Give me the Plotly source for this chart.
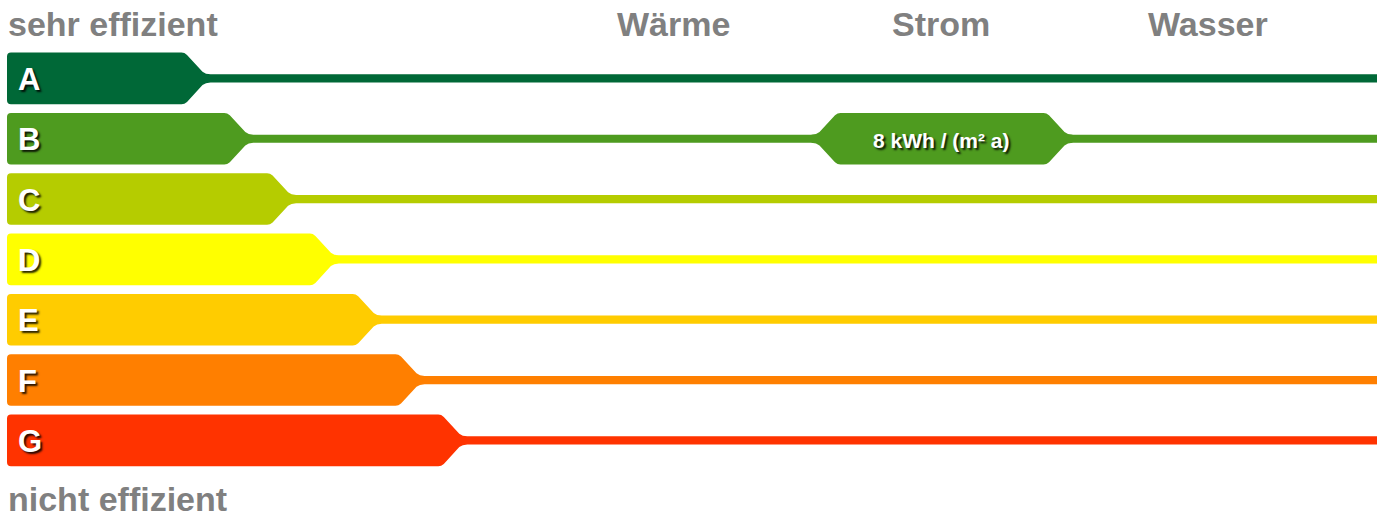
import plotly.graph_objects as go

# ---- data ----
classes = ["A", "B", "C", "D", "E", "F", "G"]
class_colors = ["#006837", "#4e9b1f", "#b5cc00", "#ffff00", "#ffcc00", "#ff7f00", "#ff3300"]
columns = ["Wärme", "Strom", "Wasser"]
column_ratings = [None, "B", None]
column_values = [None, "8 kWh / (m² a)", None]
top_label = "sehr effizient"
bottom_label = "nicht effizient"

# ---- geometry (style) ----
W, H = 1377, 517
row0, row_step = 78.4, 60.33
half_h, half_t = 25.8, 4.1
x_left, r = 7, 4
xe0, xe_step = 184.5, 42.8
col_x0, col_step = 673, 267.5
D = 25  # taper length from shoulder to line
FONT = "Liberation Sans, Arial, sans-serif"
GRAY = "#808080"
SHADOW = "2px 2px 2px rgba(0,0,0,0.85)"


def taper_right(xe, yc):
    """points from top shoulder at xe going down to the line (upper side)"""
    yt = yc - half_h
    return (f"L {xe - 3},{yt} Q {xe},{yt} {xe + 2.5},{yt + 2.3} "
            f"L {xe + D - 7},{yc - half_t - 2.6} Q {xe + D - 4},{yc - half_t} {xe + D + 1},{yc - half_t} ")


def taper_right_low(xe, yc):
    yb = yc + half_h
    return (f"Q {xe + D - 4},{yc + half_t} {xe + D - 7},{yc + half_t + 2.6} "
            f"L {xe + 2.5},{yb - 2.3} Q {xe},{yb} {xe - 3},{yb} ")


def bar_path(yc, xe):
    yt, yb = yc - half_h, yc + half_h
    return (
        f"M {x_left + r},{yt} " + taper_right(xe, yc) +
        f"L {W},{yc - half_t} L {W},{yc + half_t} L {xe + D + 1},{yc + half_t} " +
        taper_right_low(xe, yc) +
        f"L {x_left + r},{yb} Q {x_left},{yb} {x_left},{yb - r} "
        f"L {x_left},{yt + r} Q {x_left},{yt} {x_left + r},{yt} Z"
    )


def marker_path(cx, yc, w=104.5):
    yt, yb = yc - half_h, yc + half_h
    xl, xr = cx - w, cx + w
    return (
        f"M {xl + 3},{yt} " + taper_right(xr, yc) +
        f"L {xr + D + 1},{yc + half_t} " + taper_right_low(xr, yc) +
        f"L {xl + 3},{yb} Q {xl},{yb} {xl - 2.5},{yb - 2.3} "
        f"L {xl - D + 7},{yc + half_t + 2.6} Q {xl - D + 4},{yc + half_t} {xl - D - 1},{yc + half_t} "
        f"L {xl - D - 1},{yc - half_t} Q {xl - D + 4},{yc - half_t} {xl - D + 7},{yc - half_t - 2.6} "
        f"L {xl - 2.5},{yt + 2.3} Q {xl},{yt} {xl + 3},{yt} Z"
    )


fig = go.Figure()
shapes = []
annotations = []

for i, (c, col) in enumerate(zip(classes, class_colors)):
    yc = row0 + i * row_step
    xe = xe0 + i * xe_step
    shapes.append(dict(type="path", path=bar_path(yc, xe), xref="x", yref="y",
                       fillcolor=col, line=dict(width=0), layer="below"))
    annotations.append(dict(x=16, y=yc + 1, text=f"<b>{c}</b>", showarrow=False,
                            xanchor="left", yanchor="middle",
                            font=dict(family=FONT, size=31, color="white", shadow=SHADOW)))

for j, (name, rating, val) in enumerate(zip(columns, column_ratings, column_values)):
    cx = col_x0 + j * col_step
    annotations.append(dict(x=cx, y=24, text=f"<b>{name}</b>", showarrow=False,
                            xanchor="center", yanchor="middle",
                            font=dict(family=FONT, size=34, color=GRAY)))
    if rating is not None:
        i = classes.index(rating)
        yc = row0 + i * row_step
        shapes.append(dict(type="path", path=marker_path(cx + 1.5, yc), xref="x", yref="y",
                           fillcolor=class_colors[i], line=dict(width=0), layer="below"))
        annotations.append(dict(x=cx + 1, y=yc + 2, text=f"<b>{val}</b>", showarrow=False,
                                xanchor="center", yanchor="middle",
                                font=dict(family=FONT, size=21, color="white", shadow=SHADOW)))

annotations.append(dict(x=6, y=24, text=f"<b>{top_label}</b>", showarrow=False,
                        xanchor="left", yanchor="middle",
                        font=dict(family=FONT, size=34, color=GRAY)))
annotations.append(dict(x=6, y=499, text=f"<b>{bottom_label}</b>", showarrow=False,
                        xanchor="left", yanchor="middle",
                        font=dict(family=FONT, size=34, color=GRAY)))

fig.update_layout(
    width=W, height=H, margin=dict(l=0, r=0, t=0, b=0),
    paper_bgcolor="white", plot_bgcolor="white",
    xaxis=dict(range=[0, W], visible=False, fixedrange=True),
    yaxis=dict(range=[H, 0], visible=False, fixedrange=True),
    shapes=shapes, annotations=annotations, showlegend=False,
)
fig.write_html(
    "out.html",
    config={"displayModeBar": False},
    post_script="document.body.style.margin='0';document.body.style.overflow='hidden';",
)
